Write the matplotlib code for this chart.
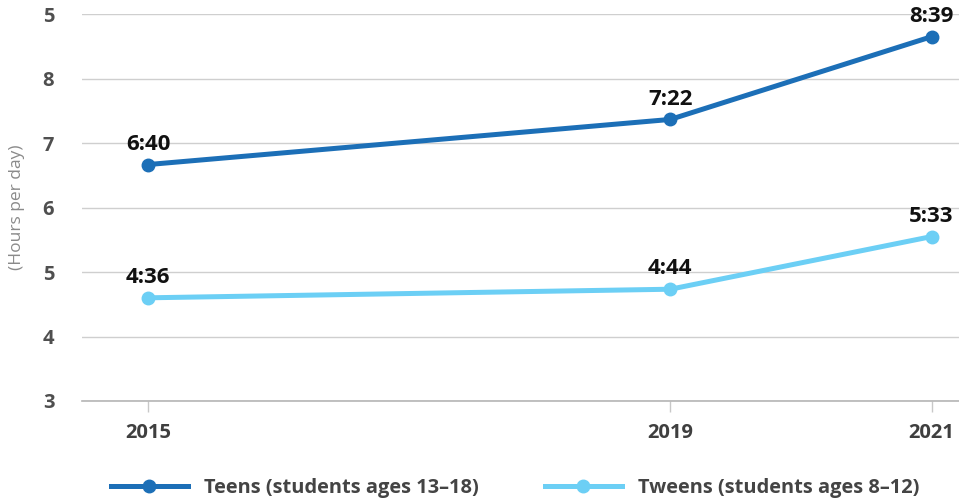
import matplotlib
matplotlib.use("Agg")
import matplotlib.pyplot as plt
from matplotlib.lines import Line2D

plt.rcParams['font.family'] = ['Open Sans', 'DejaVu Sans']

years = [2015, 2019, 2021]
teens_labels = ["6:40", "7:22", "8:39"]
tweens_labels = ["4:36", "4:44", "5:33"]
y_ticks = [3, 4, 5, 6, 7, 8, 9]
y_tick_labels = ["3", "4", "5", "6", "7", "8", "5"]
series_names = ["Teens (students ages 13\u201318)", "Tweens (students ages 8\u201312)"]


def to_hours(s):
    h, m = s.split(":")
    return int(h) + int(m) / 60


teens = [to_hours(s) for s in teens_labels]
tweens = [to_hours(s) for s in tweens_labels]

dark = "#1c6fb7"
light = "#6ccff5"

fig = plt.figure(figsize=(9.59, 5.04), dpi=100)
ax = fig.add_axes([0.0855, 0.2044, 0.9145, 0.7676])

for vals, labels, col in [(teens, teens_labels, dark), (tweens, tweens_labels, light)]:
    ax.plot(years, vals, color=col, lw=3.6, marker="o", ms=9, zorder=3,
            solid_capstyle="round")
    for x, v, lab in zip(years, vals, labels):
        ax.annotate(lab, (x, v), xytext=(0, 7), textcoords="offset points",
                    ha="center", va="bottom", fontsize=16, fontweight="bold",
                    color="#111111", zorder=4)

ax.set_xlim(2014.495, 2021.21)
ax.set_ylim(3, 9)
ax.set_xticks(years)
ax.set_xticklabels([str(y) for y in years])
ax.set_yticks(y_ticks)
ax.set_yticklabels(y_tick_labels)

ax.grid(axis="y", color="#cfcfcf", lw=1)
ax.set_axisbelow(True)
for side in ["top", "right", "left"]:
    ax.spines[side].set_visible(False)
ax.spines["bottom"].set_color("#b5b5b5")
ax.spines["bottom"].set_linewidth(1.2)

ax.tick_params(axis="y", length=0, pad=20, labelsize=14.5, labelcolor="#4f4f4f")
ax.tick_params(axis="x", length=8, width=1, color="#c8c8c8", pad=8,
               labelsize=14.5, labelcolor="#3f3f3f")
for lab in ax.get_xticklabels() + ax.get_yticklabels():
    lab.set_fontweight("bold")

fig.text(0.018, 0.589, "(Hours per day)", rotation=90, ha="center", va="center",
         fontsize=12.5, color="#8a8a8a")

handles = [Line2D([], [], color=dark, lw=3.6, marker="o", ms=9),
           Line2D([], [], color=light, lw=3.6, marker="o", ms=9)]
fig.legend(handles, series_names, loc="center", bbox_to_anchor=(0.537, 0.032),
           ncol=2, frameon=False, handlelength=3.85,
           handletextpad=0.8, columnspacing=3.3, prop={"weight": "bold", "size": 14.4})
for t in fig.legends[0].get_texts():
    t.set_color("#444444")

fig.savefig("out.png", dpi=100)
plt.close(fig)
